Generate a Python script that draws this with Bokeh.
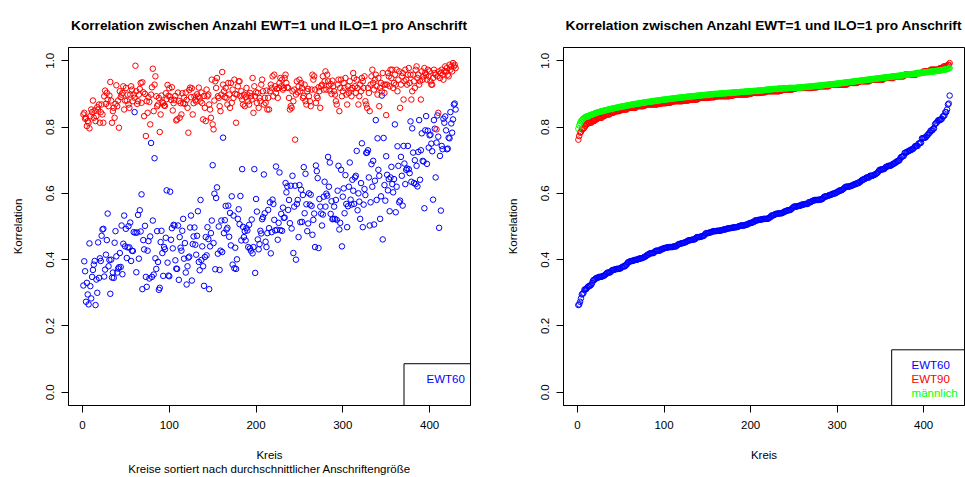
import numpy as np
from bokeh.plotting import figure
from bokeh.layouts import row
from bokeh.models import Range1d, FixedTicker, Label, BoxAnnotation, NumeralTickFormatter
from bokeh.embed import file_html
from bokeh.resources import INLINE

# Korrelation je Kreis (Kreise sortiert nach durchschnittlicher Anschriftengroesse)
ewt60 = [
    0.322, 0.395, 0.365, 0.273, 0.330, 0.295, 0.265, 0.449, 0.320, 0.283,
    0.348, 0.369, 0.385, 0.396, 0.263, 0.340, 0.300, 0.452, 0.345, 0.404,
    0.396, 0.472, 0.491, 0.493, 0.349, 0.370, 0.415, 0.459, 0.539, 0.380,
    0.399, 0.297, 0.400, 0.346, 0.361, 0.345, 0.451, 0.486, 0.410, 0.361,
    0.373, 0.377, 0.420, 0.378, 0.503, 0.356, 0.448, 0.533, 0.440, 0.493,
    0.405, 0.437, 0.501, 0.437, 0.512, 0.396, 0.427, 0.426, 0.483, 0.845,
    0.481, 0.362, 0.482, 0.535, 0.403, 0.549, 0.485, 0.597, 0.311, 0.459,
    0.431, 0.502, 0.348, 0.318, 0.427, 0.456, 0.343, 0.470, 0.752, 0.348,
    0.518, 0.355, 0.706, 0.404, 0.372, 0.486, 0.393, 0.309, 0.315, 0.453,
    0.487, 0.420, 0.351, 0.438, 0.431, 0.466, 0.609, 0.391, 0.352, 0.350,
    0.605, 0.460, 0.495, 0.434, 0.505, 0.503, 0.398, 0.373, 0.372, 0.503,
    0.339, 0.468, 0.436, 0.427, 0.487, 0.523, 0.403, 0.450, 0.361, 0.325,
    0.380, 0.406, 0.409, 0.497, 0.533, 0.337, 0.447, 0.470, 0.497, 0.445,
    0.415, 0.472, 0.546, 0.393, 0.368, 0.580, 0.399, 0.440, 0.380, 0.321,
    0.408, 0.468, 0.413, 0.498, 0.462, 0.311, 0.440, 0.480, 0.518, 0.685,
    0.450, 0.599, 0.371, 0.586, 0.618, 0.418, 0.500, 0.369, 0.427, 0.518,
    0.423, 0.768, 0.480, 0.519, 0.562, 0.491, 0.496, 0.563, 0.469, 0.541,
    0.443, 0.591, 0.385, 0.533, 0.374, 0.436, 0.372, 0.401, 0.523, 0.552,
    0.507, 0.592, 0.458, 0.673, 0.499, 0.468, 0.486, 0.458, 0.495, 0.488,
    0.438, 0.505, 0.434, 0.427, 0.521, 0.419, 0.438, 0.673, 0.360, 0.583,
    0.545, 0.461, 0.431, 0.447, 0.487, 0.479, 0.522, 0.528, 0.657, 0.540,
    0.454, 0.438, 0.480, 0.550, 0.495, 0.573, 0.419, 0.483, 0.581, 0.568,
    0.520, 0.488, 0.681, 0.490, 0.460, 0.511, 0.663, 0.489, 0.538, 0.487,
    0.557, 0.526, 0.527, 0.631, 0.603, 0.621, 0.550, 0.580, 0.510, 0.623,
    0.494, 0.653, 0.420, 0.560, 0.623, 0.400, 0.568, 0.580, 0.468, 0.625,
    0.513, 0.611, 0.514, 0.595, 0.679, 0.540, 0.659, 0.567, 0.486, 0.509,
    0.600, 0.566, 0.596, 0.562, 0.475, 0.520, 0.539, 0.438, 0.684, 0.667,
    0.646, 0.435, 0.583, 0.560, 0.539, 0.503, 0.536, 0.590, 0.635, 0.560,
    0.599, 0.593, 0.710, 0.620, 0.693, 0.538, 0.576, 0.522, 0.523, 0.560,
    0.523, 0.580, 0.520, 0.608, 0.683, 0.491, 0.511, 0.671, 0.440, 0.590,
    0.615, 0.540, 0.655, 0.568, 0.498, 0.561, 0.620, 0.693, 0.581, 0.566,
    0.641, 0.608, 0.568, 0.648, 0.653, 0.728, 0.549, 0.600, 0.575, 0.523,
    0.631, 0.751, 0.498, 0.566, 0.613, 0.595, 0.722, 0.723, 0.730, 0.648,
    0.503, 0.573, 0.688, 0.620, 0.698, 0.506, 0.638, 0.821, 0.580, 0.766,
    0.671, 0.653, 0.523, 0.591, 0.895, 0.461, 0.767, 0.625, 0.578, 0.712,
    0.656, 0.609, 0.643, 0.546, 0.648, 0.680, 0.628, 0.603, 0.643, 0.808,
    0.543, 0.620, 0.742, 0.683, 0.573, 0.578, 0.710, 0.653, 0.563, 0.743,
    0.690, 0.628, 0.671, 0.675, 0.743, 0.673, 0.661, 0.817, 0.635, 0.796,
    0.723, 0.631, 0.700, 0.628, 0.683, 0.621, 0.725, 0.821, 0.641, 0.730,
    0.781, 0.698, 0.696, 0.555, 0.790, 0.833, 0.689, 0.789, 0.738, 0.775,
    0.777, 0.750, 0.727, 0.581, 0.821, 0.795, 0.648, 0.753, 0.835, 0.771,
    0.496, 0.713, 0.548, 0.743, 0.733, 0.825, 0.813, 0.832, 0.790, 0.733,
    0.735, 0.768, 0.766, 0.845, 0.811, 0.783, 0.823, 0.868, 0.871, 0.853,
]

ewt90 = [
    0.838, 0.843, 0.825, 0.828, 0.803, 0.818, 0.813, 0.796, 0.833, 0.853,
    0.845, 0.880, 0.828, 0.850, 0.818, 0.833, 0.860, 0.853, 0.868, 0.813,
    0.845, 0.868, 0.838, 0.813, 0.893, 0.910, 0.870, 0.903, 0.883, 0.863,
    0.895, 0.936, 0.880, 0.813, 0.848, 0.858, 0.828, 0.870, 0.926, 0.863,
    0.880, 0.798, 0.908, 0.890, 0.898, 0.903, 0.923, 0.853, 0.880, 0.918,
    0.880, 0.898, 0.868, 0.858, 0.898, 0.923, 0.913, 0.878, 0.898, 0.888,
    0.985, 0.908, 0.870, 0.878, 0.898, 0.915, 0.933, 0.873, 0.935, 0.905,
    0.833, 0.900, 0.773, 0.878, 0.843, 0.890, 0.876, 0.808, 0.898, 0.920,
    0.976, 0.848, 0.928, 0.953, 0.893, 0.863, 0.868, 0.888, 0.785, 0.838,
    0.895, 0.875, 0.872, 0.865, 0.864, 0.902, 0.884, 0.927, 0.894, 0.917,
    0.892, 0.882, 0.920, 0.850, 0.872, 0.882, 0.894, 0.820, 0.823, 0.904,
    0.879, 0.828, 0.872, 0.838, 0.902, 0.872, 0.889, 0.870, 0.904, 0.882,
    0.858, 0.783, 0.912, 0.919, 0.890, 0.917, 0.838, 0.872, 0.892, 0.882,
    0.877, 0.899, 0.892, 0.919, 0.889, 0.877, 0.904, 0.872, 0.823, 0.894,
    0.858, 0.818, 0.913, 0.893, 0.898, 0.868, 0.853, 0.828, 0.943, 0.808,
    0.793, 0.880, 0.938, 0.918, 0.948, 0.893, 0.888, 0.863, 0.848, 0.898,
    0.966, 0.928, 0.908, 0.890, 0.918, 0.888, 0.868, 0.933, 0.898, 0.858,
    0.933, 0.873, 0.913, 0.888, 0.943, 0.900, 0.813, 0.898, 0.923, 0.938,
    0.938, 0.893, 0.908, 0.883, 0.868, 0.898, 0.863, 0.890, 0.918, 0.898,
    0.878, 0.868, 0.903, 0.893, 0.883, 0.948, 0.843, 0.923, 0.893, 0.905,
    0.873, 0.903, 0.858, 0.888, 0.878, 0.928, 0.943, 0.908, 0.868, 0.888,
    0.873, 0.910, 0.853, 0.888, 0.853, 0.908, 0.928, 0.918, 0.953, 0.893,
    0.958, 0.923, 0.903, 0.915, 0.888, 0.918, 0.933, 0.948, 0.923, 0.943,
    0.913, 0.918, 0.948, 0.958, 0.933, 0.920, 0.918, 0.888, 0.853, 0.863,
    0.858, 0.908, 0.878, 0.913, 0.762, 0.898, 0.938, 0.905, 0.923, 0.943,
    0.908, 0.933, 0.918, 0.888, 0.893, 0.928, 0.878, 0.868, 0.908, 0.915,
    0.893, 0.878, 0.863, 0.913, 0.958, 0.943, 0.953, 0.913, 0.873, 0.893,
    0.888, 0.920, 0.908, 0.858, 0.923, 0.928, 0.953, 0.913, 0.938, 0.968,
    0.913, 0.958, 0.938, 0.925, 0.910, 0.930, 0.900, 0.940, 0.923, 0.908,
    0.898, 0.878, 0.868, 0.928, 0.943, 0.848, 0.918, 0.943, 0.893, 0.908,
    0.933, 0.918, 0.948, 0.898, 0.868, 0.923, 0.903, 0.938, 0.913, 0.893,
    0.918, 0.963, 0.948, 0.923, 0.903, 0.943, 0.918, 0.868, 0.893, 0.928,
    0.908, 0.948, 0.938, 0.918, 0.953, 0.878, 0.868, 0.858, 0.918, 0.903,
    0.848, 0.928, 0.953, 0.973, 0.933, 0.913, 0.943, 0.958, 0.923, 0.898,
    0.948, 0.863, 0.918, 0.933, 0.908, 0.963, 0.928, 0.903, 0.928, 0.836,
    0.928, 0.963, 0.953, 0.923, 0.973, 0.948, 0.973, 0.918, 0.933, 0.958,
    0.928, 0.973, 0.908, 0.943, 0.968, 0.858, 0.928, 0.953, 0.963, 0.883,
    0.938, 0.973, 0.943, 0.928, 0.958, 0.978, 0.933, 0.958, 0.883, 0.908,
    0.958, 0.938, 0.918, 0.973, 0.983, 0.948, 0.958, 0.928, 0.938, 0.883,
    0.968, 0.943, 0.953, 0.978, 0.963, 0.958, 0.943, 0.973, 0.953, 0.968,
    0.938, 0.928, 0.928, 0.948, 0.973, 0.963, 0.958, 0.793, 0.953, 0.843,
    0.968, 0.948, 0.963, 0.973, 0.958, 0.943, 0.968, 0.983, 0.968, 0.978,
    0.958, 0.953, 0.988, 0.973, 0.983, 0.968, 0.993, 0.983, 0.988, 0.978,
]

# "maennlich" only appears sorted (right panel)
maennlich = [
    0.795, 0.805, 0.812, 0.817, 0.821, 0.824, 0.826, 0.828, 0.830, 0.831,
    0.832, 0.833, 0.834, 0.835, 0.836, 0.837, 0.838, 0.839, 0.840, 0.841,
    0.842, 0.843, 0.844, 0.845, 0.845, 0.846, 0.847, 0.848, 0.848, 0.849,
    0.850, 0.850, 0.851, 0.852, 0.852, 0.853, 0.854, 0.854, 0.855, 0.855,
    0.856, 0.857, 0.857, 0.858, 0.858, 0.859, 0.859, 0.860, 0.861, 0.861,
    0.862, 0.862, 0.863, 0.863, 0.864, 0.864, 0.865, 0.865, 0.866, 0.866,
    0.867, 0.867, 0.868, 0.868, 0.869, 0.869, 0.870, 0.870, 0.870, 0.871,
    0.871, 0.872, 0.872, 0.873, 0.873, 0.873, 0.874, 0.874, 0.875, 0.875,
    0.876, 0.876, 0.876, 0.877, 0.877, 0.877, 0.878, 0.878, 0.879, 0.879,
    0.879, 0.880, 0.880, 0.880, 0.881, 0.881, 0.882, 0.882, 0.882, 0.883,
    0.883, 0.883, 0.884, 0.884, 0.884, 0.885, 0.885, 0.885, 0.886, 0.886,
    0.886, 0.887, 0.887, 0.887, 0.888, 0.888, 0.888, 0.889, 0.889, 0.889,
    0.889, 0.890, 0.890, 0.890, 0.891, 0.891, 0.891, 0.892, 0.892, 0.892,
    0.892, 0.893, 0.893, 0.893, 0.893, 0.894, 0.894, 0.894, 0.895, 0.895,
    0.895, 0.895, 0.896, 0.896, 0.896, 0.896, 0.897, 0.897, 0.897, 0.897,
    0.898, 0.898, 0.898, 0.899, 0.899, 0.899, 0.899, 0.900, 0.900, 0.900,
    0.900, 0.900, 0.901, 0.901, 0.901, 0.901, 0.901, 0.902, 0.902, 0.902,
    0.902, 0.902, 0.903, 0.903, 0.903, 0.903, 0.903, 0.904, 0.904, 0.904,
    0.904, 0.904, 0.905, 0.905, 0.905, 0.905, 0.905, 0.906, 0.906, 0.906,
    0.906, 0.906, 0.907, 0.907, 0.907, 0.907, 0.907, 0.908, 0.908, 0.908,
    0.908, 0.908, 0.909, 0.909, 0.909, 0.909, 0.909, 0.910, 0.910, 0.910,
    0.910, 0.910, 0.911, 0.911, 0.911, 0.912, 0.912, 0.912, 0.913, 0.913,
    0.913, 0.913, 0.914, 0.914, 0.914, 0.914, 0.915, 0.915, 0.915, 0.915,
    0.915, 0.916, 0.916, 0.916, 0.916, 0.916, 0.917, 0.917, 0.917, 0.917,
    0.917, 0.917, 0.917, 0.918, 0.918, 0.918, 0.918, 0.918, 0.918, 0.918,
    0.918, 0.918, 0.918, 0.919, 0.919, 0.919, 0.919, 0.920, 0.920, 0.920,
    0.920, 0.921, 0.921, 0.921, 0.921, 0.922, 0.922, 0.922, 0.922, 0.923,
    0.923, 0.923, 0.923, 0.924, 0.924, 0.924, 0.924, 0.925, 0.925, 0.925,
    0.925, 0.926, 0.926, 0.926, 0.927, 0.927, 0.927, 0.927, 0.928, 0.928,
    0.928, 0.929, 0.929, 0.929, 0.929, 0.930, 0.930, 0.930, 0.931, 0.931,
    0.931, 0.932, 0.932, 0.932, 0.933, 0.933, 0.933, 0.934, 0.934, 0.934,
    0.935, 0.935, 0.935, 0.936, 0.936, 0.936, 0.937, 0.937, 0.937, 0.938,
    0.938, 0.938, 0.939, 0.939, 0.939, 0.940, 0.940, 0.940, 0.941, 0.941,
    0.941, 0.942, 0.942, 0.942, 0.943, 0.943, 0.943, 0.944, 0.944, 0.944,
    0.945, 0.945, 0.945, 0.946, 0.946, 0.946, 0.947, 0.947, 0.947, 0.948,
    0.948, 0.948, 0.949, 0.949, 0.949, 0.950, 0.950, 0.950, 0.951, 0.951,
    0.951, 0.952, 0.952, 0.952, 0.953, 0.953, 0.953, 0.954, 0.954, 0.954,
    0.955, 0.955, 0.955, 0.956, 0.956, 0.956, 0.957, 0.957, 0.957, 0.958,
    0.958, 0.958, 0.959, 0.959, 0.959, 0.960, 0.960, 0.960, 0.961, 0.961,
    0.961, 0.962, 0.962, 0.962, 0.963, 0.963, 0.963, 0.964, 0.964, 0.964,
    0.965, 0.965, 0.965, 0.966, 0.966, 0.966, 0.967, 0.967, 0.967, 0.968,
    0.968, 0.968, 0.969, 0.969, 0.969, 0.970, 0.970, 0.970, 0.971, 0.971,
    0.972, 0.972, 0.973, 0.973, 0.974, 0.974, 0.975, 0.976, 0.977, 0.978,
]

kreis = list(range(1, len(ewt60) + 1))
x_ticks = [0, 100, 200, 300, 400]
y_ticks = [0.0, 0.2, 0.4, 0.6, 0.8, 1.0]
title_text = "Korrelation zwischen Anzahl EWT=1 und ILO=1 pro Anschrift"
xlabel_left = "Kreis\nKreise sortiert nach durchschnittlicher Anschriftengröße"
xlabel_right = "Kreis"
ylabel = "Korrelation"
legend_left = [("EWT60", "#0000FF")]
legend_right = [("EWT60", "#0000FF"), ("EWT90", "#FF0000"), ("männlich", "#00FF00")]

FONT = "Liberation Sans"
n = len(kreis)
pad_x = 0.04 * (n - 1)
XR = (1 - pad_x, n + pad_x)
YR = (-0.04, 1.04)


def make_fig(width, bl, br, xlabel):
    p = figure(width=width, height=477, output_backend="svg", toolbar_location=None,
               x_range=Range1d(*XR), y_range=Range1d(*YR),
               min_border_left=bl, min_border_right=br, min_border_top=45,
               min_border_bottom=71)
    p.grid.visible = False
    p.outline_line_color = "black"
    p.outline_line_alpha = 1.0
    p.outline_line_width = 1
    p.background_fill_color = "white"
    p.border_fill_color = "white"
    p.title.text = title_text
    p.title.align = "center"
    p.title.text_font = FONT
    p.title.text_font_size = "13.7px"
    p.title.text_font_style = "bold"
    p.title.text_color = "black"
    p.title.text_line_height = 1.0
    p.title.standoff = 30
    for ax in (p.xaxis[0], p.yaxis[0]):
        ax.major_tick_out = 7
        ax.major_tick_in = 0
        ax.minor_tick_line_color = None
        ax.axis_line_color = "black"
        ax.major_tick_line_color = "black"
        ax.major_label_text_font = FONT
        ax.major_label_text_font_size = "11.5px"
        ax.major_label_text_color = "black"
        ax.axis_label_text_font = FONT
        ax.axis_label_text_font_size = "11.5px"
        ax.axis_label_text_font_style = "normal"
        ax.axis_label_text_color = "black"
    p.xaxis[0].ticker = FixedTicker(ticks=x_ticks)
    p.yaxis[0].ticker = FixedTicker(ticks=y_ticks)
    p.yaxis[0].formatter = NumeralTickFormatter(format="0.0")
    p.yaxis[0].major_label_orientation = "vertical"
    p.xaxis[0].major_label_standoff = 8
    p.yaxis[0].major_label_standoff = 7
    p.xaxis[0].axis_label = xlabel
    p.yaxis[0].axis_label = ylabel
    p.xaxis[0].axis_label_standoff = 17
    p.yaxis[0].axis_label_standoff = 20
    return p


def add_legend(p, items, box_left, text_x, top_y):
    p.add_layout(BoxAnnotation(left=box_left, right=XR[1], bottom=YR[0], top=top_y,
                               fill_color=None, fill_alpha=0, line_color="black",
                               line_alpha=1.0, line_width=1))
    step = 0.042
    for i, (txt, col) in enumerate(items):
        p.add_layout(Label(x=text_x, y=top_y - 0.045 - i * step, text=txt,
                           text_color=col, text_font=FONT, text_font_size="11.5px",
                           text_baseline="middle", text_align="left"))


# left panel: values by Kreis
p1 = make_fig(482, 68, 12, xlabel_left)
p1.scatter(kreis, ewt60, marker="circle", size=5.5, fill_color=None,
           line_color="#0000FF", line_width=1)
p1.scatter(kreis, ewt90, marker="circle", size=5.5, fill_color=None,
           line_color="#FF0000", line_width=1)
add_legend(p1, legend_left, 370.5, 396.5, 0.086)

# right panel: sorted values
p2 = make_fig(483, 81, 1, xlabel_right)
p2.scatter(kreis, np.sort(ewt60), marker="circle", size=5.5, fill_color=None,
           line_color="#0000FF", line_width=1)
p2.scatter(kreis, np.sort(ewt90), marker="circle", size=5.5, fill_color=None,
           line_color="#FF0000", line_width=1)
p2.scatter(kreis, np.sort(maennlich), marker="circle", size=5.5, fill_color=None,
           line_color="#00FF00", line_width=1)
add_legend(p2, legend_right, 363, 386, 0.128)

layout = row(p1, p2)
open("out.html", "w").write(file_html(layout, INLINE))
